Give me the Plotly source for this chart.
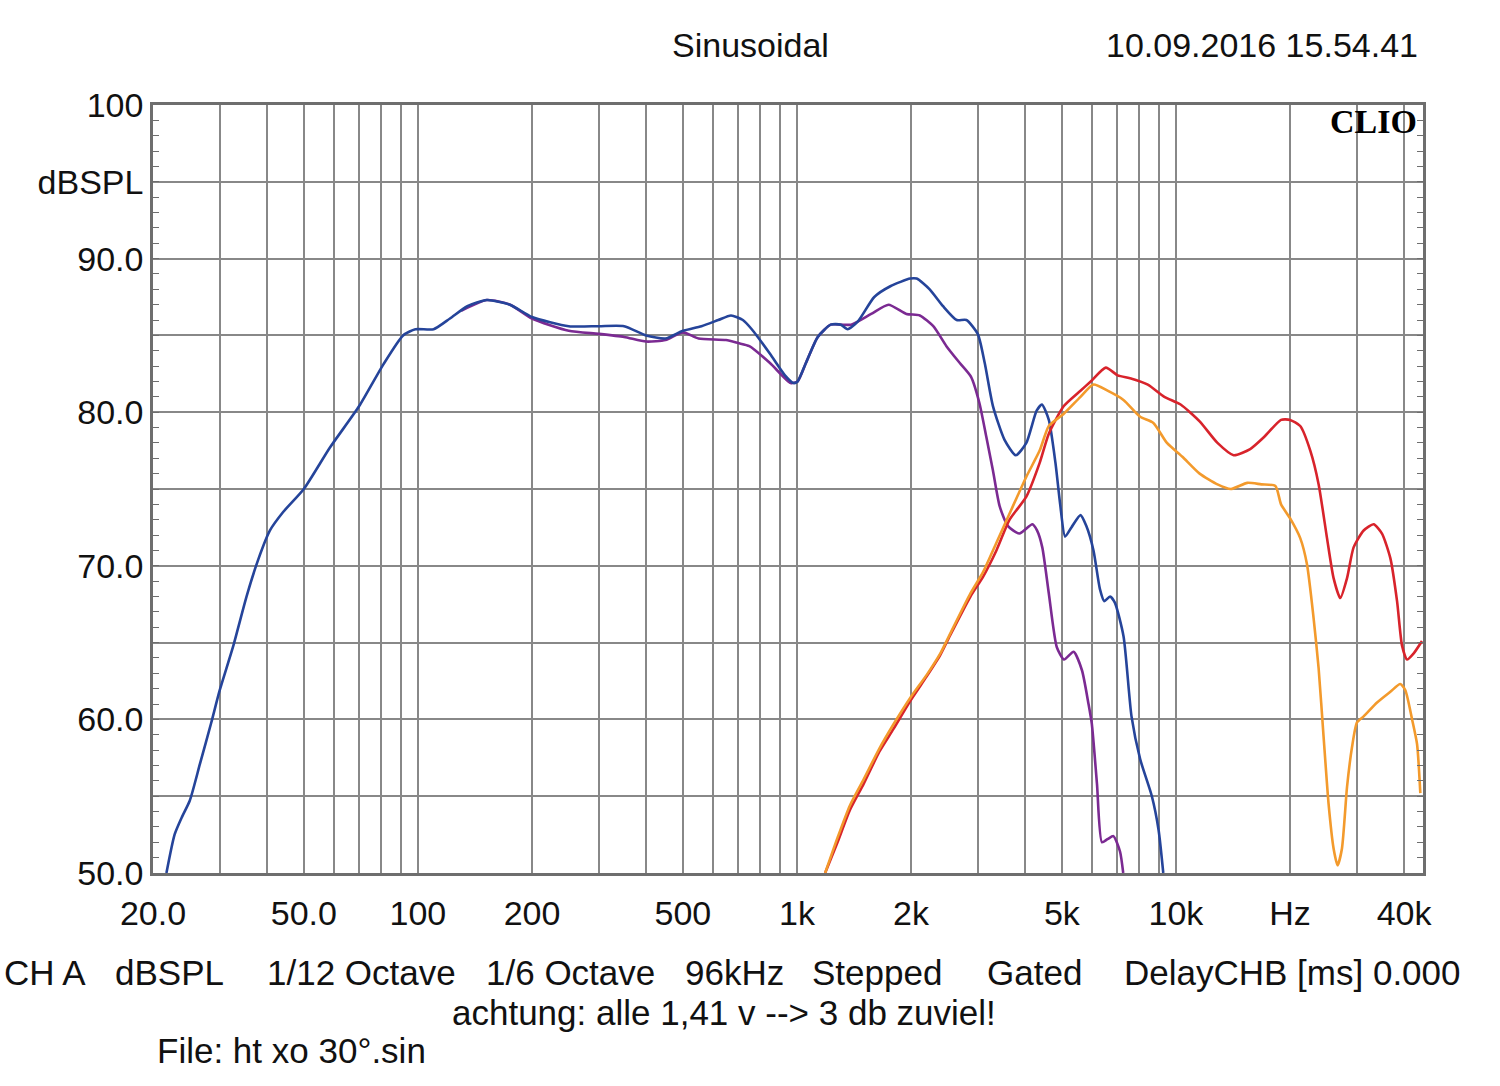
import plotly.graph_objects as go

# ---------------- data ----------------
blue_f = [21.7, 22.8, 23.8, 25.0, 26.6, 28.5, 30.0, 32.5, 35.3, 37.9, 40.7, 44.1, 50.0, 58.6, 70, 81, 91.4, 98.5,
          110, 121.5, 135, 152, 175, 200, 250, 300, 350, 400, 450, 500, 560, 620, 670, 720, 760, 849, 930, 980,
          1004, 1056, 1135, 1228, 1305, 1360, 1447, 1600, 1764, 1990, 2070, 2240, 2430, 2640, 2800, 3000, 3130,
          3290, 3530, 3780, 4030, 4290, 4430, 4620, 4810, 4950, 5100, 5300, 5600, 5800, 6060, 6300, 6470, 6700,
          6900, 7275, 7635, 8050, 8640, 9000, 9260]
blue_db = [50.0, 52.5, 53.6, 54.7, 57.1, 59.8, 61.9, 64.7, 68.0, 70.4, 72.3, 73.5, 75.0, 77.7, 80.4, 83.1, 85.0, 85.4,
           85.4, 86.1, 86.9, 87.3, 87.0, 86.2, 85.6, 85.6, 85.6, 85.0, 84.8, 85.3, 85.6, 86.0, 86.3, 86.0, 85.4, 83.8,
           82.4, 81.9, 82.0, 83.2, 84.9, 85.7, 85.7, 85.4, 85.9, 87.5, 88.2, 88.7, 88.7, 88.0, 86.9, 86.0, 86.0, 85.1,
           83.2, 80.4, 78.2, 77.2, 78.0, 80.1, 80.5, 79.5, 76.7, 74.0, 71.9, 72.5, 73.3, 72.6, 71.0, 68.5, 67.7, 68.0,
           67.6, 65.4, 60.2, 57.4, 55.0, 52.8, 50.0]

purple_f = [130, 152, 175, 200, 250, 300, 350, 400, 450, 500, 550, 650, 700, 749, 849, 963, 1004, 1056, 1135, 1228,
            1305, 1390, 1570, 1745, 1945, 2110, 2290, 2480, 2690, 2880, 3030, 3160, 3290, 3425, 3600, 3865, 4180,
            4300, 4440, 4620, 4850, 5070, 5370, 5650, 5880, 6000, 6190, 6380, 6600, 6840, 7120, 7260]
purple_db = [86.6, 87.3, 87.0, 86.1, 85.3, 85.1, 84.9, 84.6, 84.7, 85.2, 84.8, 84.7, 84.5, 84.3, 83.2, 81.9, 82.0,
             83.2, 84.9, 85.7, 85.7, 85.7, 86.4, 87.0, 86.4, 86.3, 85.6, 84.3, 83.2, 82.3, 80.6, 78.4, 76.2, 73.9,
             72.6, 72.1, 72.7, 72.3, 71.2, 68.2, 64.7, 63.9, 64.4, 63.2, 61.0, 59.7, 55.8, 52.0, 52.2, 52.4, 51.4,
             50.0]

red_f = [1187, 1280, 1380, 1500, 1650, 1800, 1990, 2200, 2390, 2540, 2870, 3100, 3360, 3640, 4030, 4370, 4620, 5060,
         5600, 5960, 6530, 7020, 7610, 8430, 9320, 10290, 11550, 12870, 14200, 15700, 17110, 18940, 20000, 21280,
         22620, 23800, 25040, 26060, 27140, 28280, 29430, 31280, 33240, 34970, 36790, 38320, 39500, 40720, 42400,
         44600]
red_db = [50.0, 52.0, 54.1, 55.8, 57.9, 59.4, 61.2, 62.8, 64.2, 65.5, 68.0, 69.3, 71.0, 73.0, 74.5, 76.7, 78.6, 80.4,
          81.4, 82.0, 82.9, 82.4, 82.2, 81.8, 81.0, 80.5, 79.4, 78.0, 77.2, 77.6, 78.4, 79.5, 79.5, 79.1, 77.5, 75.3,
          71.8, 69.2, 67.9, 69.2, 71.2, 72.3, 72.7, 72.1, 70.5, 67.7, 64.8, 63.9, 64.3, 65.1]

orange_f = [1187, 1280, 1380, 1500, 1650, 1800, 1990, 2200, 2390, 2540, 2870, 3100, 3360, 3640, 4030, 4370, 4620,
            5060, 5600, 6060, 6600, 7270, 8050, 8720, 9470, 10400, 11550, 12870, 13960, 15430, 16800, 18300, 18940,
            20000, 21280, 22170, 23080, 23800, 24520, 25280, 26060, 26700, 27420, 28280, 29150, 30040, 31280, 33940,
            36790, 39080, 40300, 41990, 43270, 44140]
orange_db = [50.0, 52.3, 54.4, 56.1, 58.1, 59.7, 61.4, 62.9, 64.3, 65.6, 68.2, 69.6, 71.5, 73.4, 75.8, 77.5, 79.1,
             79.9, 81.0, 81.8, 81.4, 80.8, 79.7, 79.3, 78.0, 77.1, 76.0, 75.3, 75.0, 75.4, 75.3, 75.2, 74.0, 73.1,
             71.8, 70.1, 66.6, 63.3, 58.9, 54.5, 51.6, 50.5, 51.6, 55.6, 58.2, 59.8, 60.2, 61.1, 61.8, 62.3, 61.9,
             60.0, 58.4, 55.2]

x_grid = [20, 30, 40, 50, 60, 70, 80, 90, 100, 200, 300, 400, 500, 600, 700, 800, 900, 1000, 2000, 3000, 4000,
          5000, 6000, 7000, 8000, 9000, 10000, 20000, 30000, 40000]
x_labels = {20: "20.0", 50: "50.0", 100: "100", 200: "200", 500: "500", 1000: "1k", 2000: "2k", 5000: "5k",
            10000: "10k", 20000: "Hz", 40000: "40k"}
y_grid = [50, 55, 60, 65, 70, 75, 80, 85, 90, 95, 100]
y_labels = {50: "50.0", 60: "60.0", 70: "70.0", 80: "80.0", 90: "90.0", 95: "dBSPL", 100: "100"}

title_text = "Sinusoidal"
date_text = "10.09.2016 15.54.41"
footer_items = [("CH A", 2), ("dBSPL", 113), ("1/12 Octave", 265), ("1/6 Octave", 484), ("96kHz", 683),
                ("Stepped", 810), ("Gated", 985), ("DelayCHB [ms] 0.000", 1122)]
note_text = "achtung: alle 1,41 v --> 3 db zuviel!"
file_text = "File: ht xo 30°.sin"

# ---------------- figure ----------------
FONT = "Liberation Sans, Arial, sans-serif"
W, H = 1500, 1086
L, R, T, B = 153, 77, 105, 213
pw, ph = W - L - R, H - T - B


def px(xp):
    return (xp - L) / pw


def py(yp):
    return (H - B - yp) / ph


fig = go.Figure()
series = [
    (purple_f, purple_db, "#7b2a92"),
    (blue_f, blue_db, "#25449a"),
    (red_f, red_db, "#d8232b"),
    (orange_f, orange_db, "#f39a2c"),
]
for f, d, c in series:
    fig.add_trace(go.Scatter(x=f, y=d, mode="lines", line=dict(color=c, width=2.6, shape="spline", smoothing=0.6),
                             showlegend=False, hoverinfo="skip"))

grid_c = "#888888"
fig.update_xaxes(type="log", range=[1.30103, 4.6519], tickmode="array", tickvals=x_grid,
                 ticktext=[x_labels.get(v, "") for v in x_grid], showgrid=True, gridcolor=grid_c, gridwidth=1.6,
                 showline=True, linecolor="#6e6e6e", linewidth=2.5, mirror=True, ticks="",
                 tickfont=dict(family=FONT, size=34, color="#111"), ticklabelstandoff=8, zeroline=False)
fig.update_yaxes(range=[50, 100], tickmode="array", tickvals=y_grid,
                 ticktext=[y_labels.get(v, "") for v in y_grid], showgrid=True, gridcolor=grid_c, gridwidth=1.6,
                 showline=True, linecolor="#6e6e6e", linewidth=2.5, mirror="ticks", ticks="inside", ticklen=6,
                 tickcolor="#6e6e6e", tickwidth=1.3,
                 minor=dict(dtick=1, ticks="inside", ticklen=6, tickcolor="#6e6e6e", tickwidth=1.3, showgrid=False),
                 tickfont=dict(family=FONT, size=34, color="#111"), ticklabelstandoff=0, zeroline=False)

ann = []
ann.append(dict(text=title_text, x=px(750), y=py(45), xanchor="center", yanchor="middle",
                font=dict(family=FONT, size=34, color="#111")))
ann.append(dict(text=date_text, x=px(1420), y=py(45), xanchor="right", yanchor="middle",
                font=dict(family=FONT, size=34, color="#111")))
ann.append(dict(text="<b>CLIO</b>", x=px(1419), y=py(122), xanchor="right", yanchor="middle",
                font=dict(family="Liberation Serif, Times New Roman, serif", size=34, color="#000")))
for txt, xl in footer_items:
    ann.append(dict(text=txt, x=px(xl), y=py(972), xanchor="left", yanchor="middle",
                    font=dict(family=FONT, size=35, color="#111")))
ann.append(dict(text=note_text, x=px(724), y=py(1012), xanchor="center", yanchor="middle",
                font=dict(family=FONT, size=35, color="#111")))
ann.append(dict(text=file_text, x=px(155), y=py(1050), xanchor="left", yanchor="middle",
                font=dict(family=FONT, size=35, color="#111")))
for a in ann:
    a.update(xref="paper", yref="paper", showarrow=False)

fig.update_layout(width=W, height=H, margin=dict(l=L, r=R, t=T, b=B, pad=0), paper_bgcolor="white",
                  plot_bgcolor="white", annotations=ann, showlegend=False)

fig.write_html("out.html")
